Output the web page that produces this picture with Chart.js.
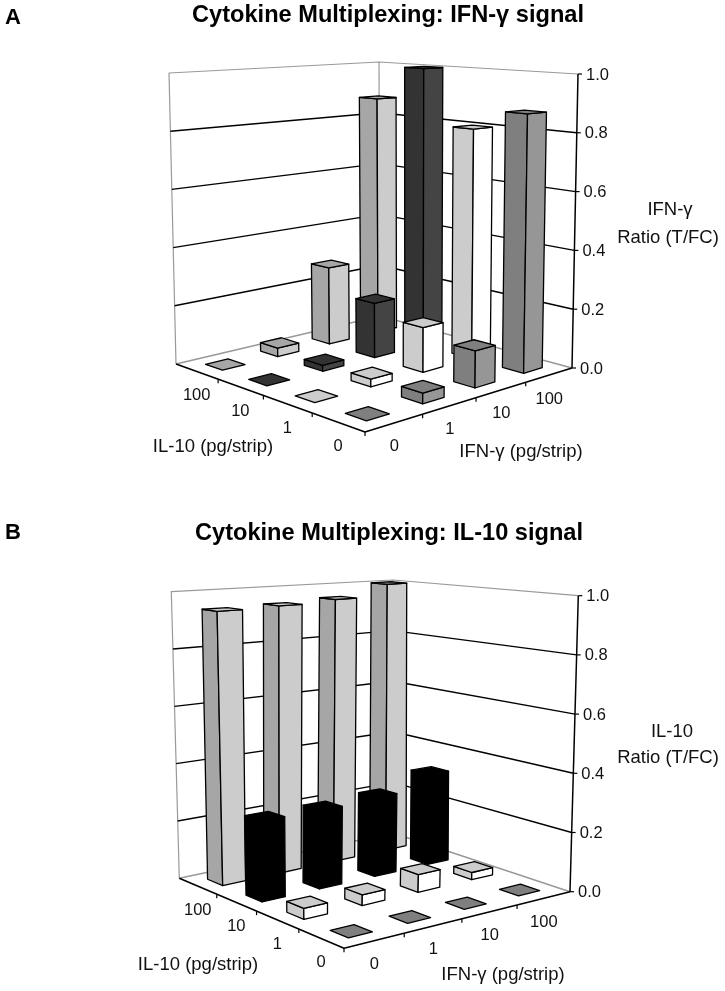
<!DOCTYPE html>
<html><head><meta charset="utf-8">
<style>html,body{margin:0;padding:0;background:#fff}canvas{position:absolute;left:0;display:block}</style>
<script src="https://cdn.jsdelivr.net/npm/chart.js@4"></script>
</head><body>
<canvas id="a" width="725" height="495" style="top:0"></canvas>
<canvas id="b" width="725" height="496" style="top:495px"></canvas>
<script>
// ---- data ----
const ifnLevels = ['0','1','10','100'];
const il10Levels = ['0','1','10','100'];
const yTicksMax = 1.0;
// panel A: one array per IL-10 level, values by IFN-gamma level
const a_il0   = [0, 0.033, 0.12, 0.87];
const a_il1   = [0, 0.025, 0.15, 0.80];
const a_il10  = [0, 0.02, 0.19, 1.0];
const a_il100 = [0, 0.03, 0.276, 0.875];
// panel B
const b_il0   = [0, 0, 0, 0];
const b_il1   = [0.035, 0.035, 0.06, 0.025];
const b_il10  = [0.267, 0.267, 0.277, 0.325];
const b_il100 = [0.94, 0.945, 0.955, 1.0];

// ---- styles ----
const FONT = '"Liberation Sans", Arial, sans-serif';
const stylesA = [
 {left:'#7f7f7f',right:'#969696',top:'#7f7f7f',edge:'#000'},
 {left:'#cccccc',right:'#ffffff',top:'#cccccc',edge:'#000'},
 {left:'#333333',right:'#444444',top:'#333333',edge:'#000'},
 {left:'#a6a6a6',right:'#cccccc',top:'#a6a6a6',edge:'#000'}];
const stylesB = [
 {left:'#7f7f7f',right:'#969696',top:'#7f7f7f',edge:'#000'},
 {left:'#cccccc',right:'#ffffff',top:'#cccccc',edge:'#000'},
 {left:'#000000',right:'#000000',top:'#000000',edge:'#000'},
 {left:'#a6a6a6',right:'#cccccc',top:'#cccccc',edge:'#000'}];

// unit square -> quad homography: (0,0)=F (1,0)=R (1,1)=B (0,1)=L
function homography(F,R,B,L){
  const dx1=R[0]-B[0],dx2=L[0]-B[0],sx=F[0]-R[0]+B[0]-L[0];
  const dy1=R[1]-B[1],dy2=L[1]-B[1],sy=F[1]-R[1]+B[1]-L[1];
  const d=dx1*dy2-dx2*dy1;
  const g=(sx*dy2-dx2*sy)/d,h=(dx1*sy-sx*dy1)/d;
  const a=R[0]-F[0]+g*R[0],b=L[0]-F[0]+h*L[0],c=F[0];
  const e=R[1]-F[1]+g*R[1],f=L[1]-F[1]+h*L[1],k=F[1];
  return (u,v)=>{const w=g*u+h*v+1;return [(a*u+b*v+c)/w,(e*u+f*v+k)/w];};
}

const box3d = {
  id:'box3d',
  afterDatasetsDraw(chart,_,o){
    const ctx=chart.ctx, X=chart.scales.x, Z=chart.scales.z, Y=chart.scales.y;
    const fl=homography(o.floor.F,o.floor.R,o.floor.B,o.floor.L);
    const tp=homography(o.top.F,o.top.R,o.top.B,o.top.L);
    const P=(u,v,h)=>{const a=fl(u,v),b=tp(u,v);return [a[0]+(b[0]-a[0])*h,a[1]+(b[1]-a[1])*h];};
    const H=val=>(Y.bottom-Y.getPixelForValue(val))/(Y.bottom-Y.top);
    const U=i=>(X.getPixelForValue(i)-X.left)/(X.right-X.left);
    const V=j=>(Z.getPixelForValue(j)-Z.left)/(Z.right-Z.left);
    const line=(pts,color,w)=>{ctx.beginPath();pts.forEach((p,n)=>n?ctx.lineTo(p[0],p[1]):ctx.moveTo(p[0],p[1]));ctx.strokeStyle=color;ctx.lineWidth=w;ctx.stroke();};
    const poly=(pts,fill,edge)=>{ctx.beginPath();pts.forEach((p,n)=>n?ctx.lineTo(p[0],p[1]):ctx.moveTo(p[0],p[1]));ctx.closePath();ctx.fillStyle=fill;ctx.fill();ctx.strokeStyle=edge;ctx.lineWidth=1.3;ctx.stroke();};
    ctx.save();ctx.lineJoin='round';ctx.lineCap='butt';
    // walls
    const grey='#999999';
    line([P(0,1,0),P(0,1,1),P(1,1,1),P(1,0,1)],grey,1.2);
    line([P(1,1,0),P(1,1,1)],grey,1.2);
    line([P(0,1,0),P(1,1,0),P(1,0,0)],grey,1.6);
    Y.ticks.forEach(t=>{ if(t.value>0&&t.value<yTicksMax) line([P(0,1,H(t.value)),P(1,1,H(t.value)),P(1,0,H(t.value))],'#000',1.4); });
    // floor front edges with ticks
    line([P(0,1,0),P(0,0,0),P(1,0,0)],'#000',1.5);
    const n=X.getLabels().length, m=Z.getLabels().length;
    for(let i=1;i<n;i++){const p=P(i/n,0,0);line([p,[p[0],p[1]+4]],'#000',1.2);}
    for(let j=1;j<m;j++){const p=P(0,j/m,0);line([p,[p[0],p[1]+4]],'#000',1.2);}
    {const p=P(0,0,0);line([p,[p[0],p[1]+4]],'#000',1.2);}
    // value axis
    line([P(1,0,0),P(1,0,1)],'#000',1.5);
    ctx.font='16.5px '+FONT;ctx.fillStyle='#111';ctx.textBaseline='middle';ctx.textAlign='left';
    Y.ticks.forEach(t=>{const p=P(1,0,H(t.value));line([p,[p[0]+4,p[1]]],'#000',1.2);ctx.fillStyle='#111';ctx.fillText(t.label,p[0]+8,p[1]+1);});
    // bars, back to front
    const w=o.halfWidth, cells=[];
    chart.data.datasets.forEach((ds,j)=>ds.data.forEach((val,i)=>cells.push({i,j,val})));
    cells.sort((a,b)=>(b.i+b.j)-(a.i+a.j));
    cells.forEach(c=>{
      const u=U(c.i),v=V(c.j),h=H(c.val),s=o.styles[c.j];
      const f0=P(u-w,v-w,0),r0=P(u+w,v-w,0),l0=P(u-w,v+w,0);
      const f1=P(u-w,v-w,h),r1=P(u+w,v-w,h),l1=P(u-w,v+w,h),b1=P(u+w,v+w,h);
      if(h>0){poly([l0,f0,f1,l1],s.left,s.edge);poly([f0,r0,r1,f1],s.right,s.edge);}
      poly([f1,r1,b1,l1],s.top,s.edge);
    });
    // texts
    ctx.textAlign='center';ctx.fillStyle='#111';ctx.font='16.5px '+FONT;
    X.getLabels().forEach((t,i)=>{const p=P(U(i),0,0);ctx.fillText(t,p[0],p[1]+24);});
    Z.getLabels().forEach((t,j)=>{const p=P(0,V(j),0);ctx.fillText(t,p[0],p[1]+24);});
    o.texts.forEach(t=>{ctx.font=(t.bold?'bold ':'')+t.size+'px '+FONT;ctx.textAlign=t.align||'center';ctx.fillStyle=t.bold?'#000':'#111';ctx.fillText(t.s,t.x,t.y);});
    ctx.restore();
  }
};

function panel(id,series,opts,axisTop,axisBottom,canvasH){
  new Chart(document.getElementById(id),{
    type:'line',
    plugins:[box3d],
    data:{labels:ifnLevels,datasets:series.map((d,j)=>({label:'IL-10 '+il10Levels[j],data:d,showLine:false,pointRadius:0}))},
    options:{
      responsive:false,animation:false,
      layout:{padding:{top:axisTop,bottom:canvasH-axisBottom,left:0,right:0}},
      plugins:{legend:{display:false},tooltip:{enabled:false},box3d:opts},
      scales:{
        x:{type:'category',offset:true,display:false},
        z:{type:'category',axis:'x',labels:il10Levels,offset:true,display:false},
        y:{type:'linear',min:0,max:yTicksMax,display:false,ticks:{stepSize:0.2,callback:v=>v.toFixed(1)}}
      }
    }
  });
}

panel('a',[a_il0,a_il1,a_il10,a_il100],{
  floor:{F:[365,432],R:[572,368],B:[380,316],L:[176,364]},
  top:{F:[364.2,89],R:[578,74],B:[379,62],L:[169,73]},
  halfWidth:0.05,styles:stylesA,
  texts:[
   {s:'A',x:13,y:18,size:22,bold:true},
   {s:'Cytokine Multiplexing: IFN-γ signal',x:388,y:15,size:23.6,bold:true},
   {s:'IFN-γ',x:670,y:210,size:18.5},
   {s:'Ratio (T/FC)',x:668,y:238,size:18.5},
   {s:'IL-10 (pg/strip)',x:213,y:447,size:18.5},
   {s:'IFN-γ (pg/strip)',x:521,y:452,size:18.5}
  ]},74,368,495);

panel('b',[b_il0,b_il1,b_il10,b_il100],{
  floor:{F:[344,453.3],R:[570,396.7],B:[393,338],L:[179.3,383.3]},
  top:{F:[347,119],R:[578.3,100.7],B:[393,85],L:[171.3,96.7]},
  halfWidth:0.05,styles:stylesB,
  texts:[
   {s:'B',x:13,y:38,size:22,bold:true},
   {s:'Cytokine Multiplexing: IL-10 signal',x:389,y:38,size:23.6,bold:true},
   {s:'IL-10',x:672,y:236.7,size:18.5},
   {s:'Ratio (T/FC)',x:668,y:262.7,size:18.5},
   {s:'IL-10 (pg/strip)',x:198,y:470,size:18.5},
   {s:'IFN-γ (pg/strip)',x:503,y:480,size:18.5}
  ]},100.7,396.7,496);
</script>
</body></html>
